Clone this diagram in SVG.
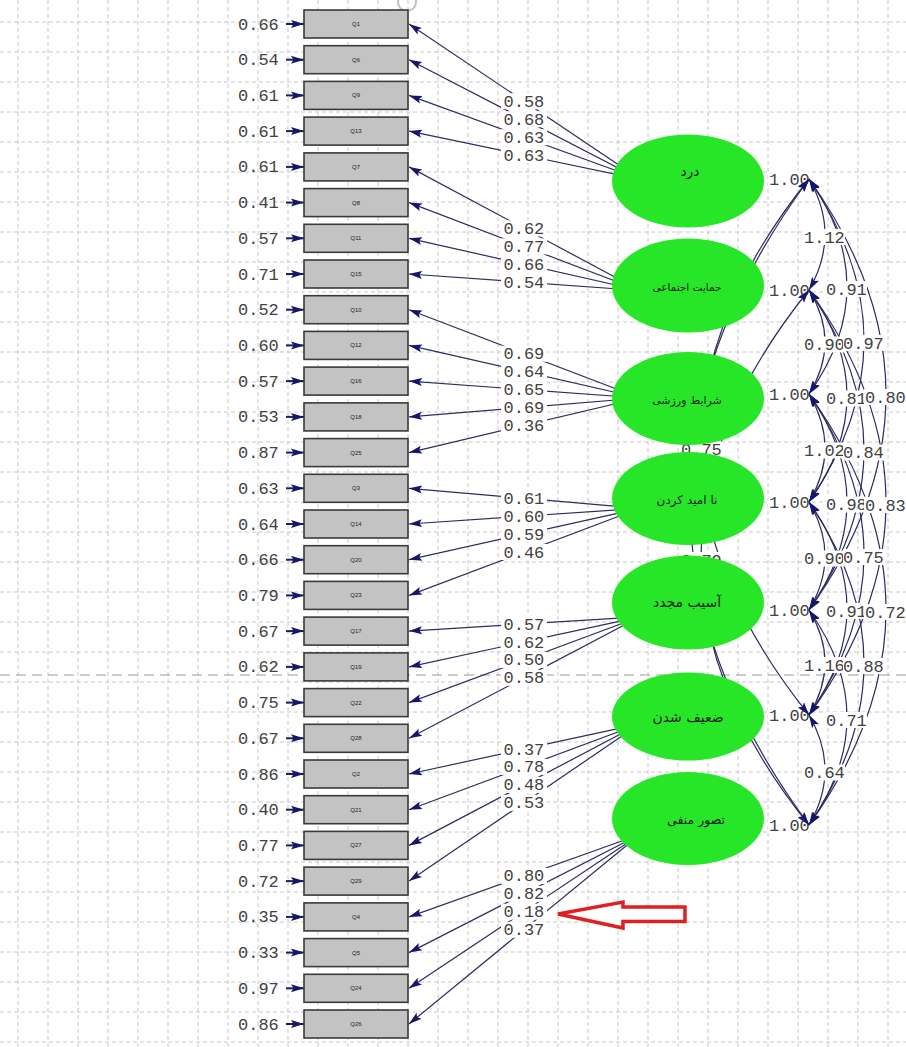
<svg xmlns="http://www.w3.org/2000/svg" width="906" height="1047" viewBox="0 0 906 1047">
<style>
.grid{stroke:#c8c8c8;stroke-width:1;stroke-dasharray:4 3;fill:none}
.page{stroke:#9a9a9a;stroke-width:1;stroke-dasharray:10 6;fill:none}
.num{font-family:"Liberation Mono","Courier New",monospace;font-size:17px;fill:#424242}
.bg{fill:#ffffff}
.ld{stroke:#2c2c64;stroke-width:1.2;fill:none}
.err{stroke:#1c1c6a;stroke-width:2;fill:none}
.cv{stroke:#2c2c64;stroke-width:1.2;fill:none}
.ind rect{fill:#c3c3c3;stroke:#3a3a3a;stroke-width:1.6}
.qt{font-family:"Liberation Sans",Arial,sans-serif;font-size:6px;fill:#222;text-anchor:middle}
.lat ellipse{fill:#27e627}
.lt{font-family:"DejaVu Sans","Noto Sans",sans-serif;fill:#142014;text-anchor:middle}
</style>
<defs>
<marker id="ah" markerUnits="userSpaceOnUse" markerWidth="14" markerHeight="10" refX="13" refY="5" orient="auto-start-reverse">
<path d="M0,1 L13,5 L0,9 L2.5,5 z" fill="#16166a"/>
</marker>
</defs>
<rect width="906" height="1047" fill="#ffffff"/>
<!-- background grid -->
<path class="grid" d="M18,0V1047M48,0V1047M78,0V1047M108,0V1047M138,0V1047M168,0V1047M198,0V1047M228,0V1047M258,0V1047M288,0V1047M318,0V1047M348,0V1047M378,0V1047M408,0V1047M438,0V1047M468,0V1047M498,0V1047M528,0V1047M558,0V1047M588,0V1047M618,0V1047M648,0V1047M678,0V1047M708,0V1047M738,0V1047M768,0V1047M798,0V1047M828,0V1047M858,0V1047M888,0V1047
M0,22H906M0,52H906M0,82H906M0,112H906M0,142H906M0,172H906M0,202H906M0,232H906M0,262H906M0,292H906M0,322H906M0,352H906M0,382H906M0,412H906M0,442H906M0,472H906M0,502H906M0,532H906M0,562H906M0,592H906M0,622H906M0,652H906M0,682H906M0,712H906M0,742H906M0,772H906M0,802H906M0,832H906M0,862H906M0,892H906M0,922H906M0,952H906M0,982H906M0,1012H906M0,1042H906"/>
<path class="page" d="M0,675H906"/>
<circle cx="407" cy="2" r="9" fill="none" stroke="#c0c0c0" stroke-width="2"/>

<!-- factor variances -->
<g id="variances">
<rect class="bg" x="768" y="171" width="40" height="16"/><text class="num" x="769" y="184.5">1.00</text>
<rect class="bg" x="768" y="282" width="40" height="16"/><text class="num" x="769" y="295.5">1.00</text>
<rect class="bg" x="768" y="386" width="40" height="16"/><text class="num" x="769" y="399.5">1.00</text>
<rect class="bg" x="768" y="494" width="40" height="16"/><text class="num" x="769" y="507.5">1.00</text>
<rect class="bg" x="768" y="602" width="40" height="16"/><text class="num" x="769" y="615.5">1.00</text>
<rect class="bg" x="768" y="707" width="40" height="16"/><text class="num" x="769" y="720.5">1.00</text>
<rect class="bg" x="768" y="817" width="40" height="16"/><text class="num" x="769" y="830.5">1.00</text>
</g>

<g id="connectors">
<!-- error terms -->
<g class="err" marker-end="url(#ah)">
<path d="M286,24H304"/><path d="M286,59.7H304"/><path d="M286,95.4H304"/><path d="M286,131.1H304"/><path d="M286,166.9H304"/><path d="M286,202.6H304"/><path d="M286,238.3H304"/><path d="M286,274H304"/><path d="M286,309.7H304"/><path d="M286,345.4H304"/><path d="M286,381.1H304"/><path d="M286,416.9H304"/><path d="M286,452.6H304"/><path d="M286,488.3H304"/><path d="M286,524H304"/><path d="M286,559.7H304"/><path d="M286,595.4H304"/><path d="M286,631.1H304"/><path d="M286,666.9H304"/><path d="M286,702.6H304"/><path d="M286,738.3H304"/><path d="M286,774H304"/><path d="M286,809.7H304"/><path d="M286,845.4H304"/><path d="M286,881.1H304"/><path d="M286,916.9H304"/><path d="M286,952.6H304"/><path d="M286,988.3H304"/><path d="M286,1024H304"/>
</g>
<!-- loadings -->
<g class="ld" marker-end="url(#ah)">
<path d="M640,179.3L409,24"/><path d="M640,179.3L409,59.7"/><path d="M640,179.3L409,95.4"/><path d="M640,179.3L409,131.1"/>
<path d="M640,290.5L409,166.9"/><path d="M640,290.5L409,202.6"/><path d="M640,290.5L409,238.3"/><path d="M640,290.5L409,274"/>
<path d="M640,398L409,309.7"/><path d="M640,398L409,345.4"/><path d="M640,398L409,381.1"/><path d="M640,398L409,416.9"/><path d="M640,398L409,452.6"/>
<path d="M640,508.3L409,488.3"/><path d="M640,508.3L409,524"/><path d="M640,508.3L409,559.7"/><path d="M640,508.3L409,595.4"/>
<path d="M640,616.8L409,631.1"/><path d="M640,616.8L409,666.9"/><path d="M640,616.8L409,702.6"/><path d="M640,616.8L409,738.3"/>
<path d="M640,723.8L409,774"/><path d="M640,723.8L409,809.7"/><path d="M640,723.8L409,845.4"/><path d="M640,723.8L409,881.1"/>
<path d="M640,834.5L409,916.9"/><path d="M640,834.5L409,952.6"/><path d="M640,834.5L409,988.3"/><path d="M640,834.5L409,1024"/>
</g>
<!-- factor correlations -->
<g class="cv" marker-start="url(#ah)" marker-end="url(#ah)">
<path d="M809,179Q841,234.5 809,290"/>
<path d="M809,290Q841,342 809,394"/>
<path d="M809,394Q841,448 809,502"/>
<path d="M809,502Q841,556 809,610"/>
<path d="M809,610Q841,662.5 809,715"/>
<path d="M809,715Q841,770 809,825"/>
<path d="M809,179Q885,286.5 809,394"/>
<path d="M809,290Q885,396 809,502"/>
<path d="M809,394Q885,502 809,610"/>
<path d="M809,502Q885,608.5 809,715"/>
<path d="M809,610Q885,717.5 809,825"/>
<path d="M809,179Q919,340.5 809,502"/>
<path d="M809,290Q919,450 809,610"/>
<path d="M809,394Q919,554.5 809,715"/>
<path d="M809,502Q919,663.5 809,825"/>
<path d="M809,179Q963,394.5 809,610"/>
<path d="M809,290Q963,502.5 809,715"/>
<path d="M809,394Q963,609.5 809,825"/>
<path d="M809,179Q593,447 809,715"/>
<path d="M809,290Q593,557.5 809,825"/>
<path d="M809,179Q571,502 809,825"/>
</g>
</g>

<!-- path coefficients -->
<g id="loading-labels">
<rect class="bg" x="501" y="93.3" width="46" height="16"/><text class="num" x="503.5" y="106.8">0.58</text>
<rect class="bg" x="501" y="111.2" width="46" height="16"/><text class="num" x="503.5" y="124.7">0.68</text>
<rect class="bg" x="501" y="129.2" width="46" height="16"/><text class="num" x="503.5" y="142.7">0.63</text>
<rect class="bg" x="501" y="147.1" width="46" height="16"/><text class="num" x="503.5" y="160.6">0.63</text>
<rect class="bg" x="501" y="220.4" width="46" height="16"/><text class="num" x="503.5" y="233.9">0.62</text>
<rect class="bg" x="501" y="238.4" width="46" height="16"/><text class="num" x="503.5" y="251.9">0.77</text>
<rect class="bg" x="501" y="256.3" width="46" height="16"/><text class="num" x="503.5" y="269.8">0.66</text>
<rect class="bg" x="501" y="274.2" width="46" height="16"/><text class="num" x="503.5" y="287.7">0.54</text>
<rect class="bg" x="501" y="345.7" width="46" height="16"/><text class="num" x="503.5" y="359.2">0.69</text>
<rect class="bg" x="501" y="363.6" width="46" height="16"/><text class="num" x="503.5" y="377.1">0.64</text>
<rect class="bg" x="501" y="381.5" width="46" height="16"/><text class="num" x="503.5" y="395">0.65</text>
<rect class="bg" x="501" y="399.5" width="46" height="16"/><text class="num" x="503.5" y="413">0.69</text>
<rect class="bg" x="501" y="417.4" width="46" height="16"/><text class="num" x="503.5" y="430.9">0.36</text>
<rect class="bg" x="501" y="490.3" width="46" height="16"/><text class="num" x="503.5" y="503.8">0.61</text>
<rect class="bg" x="501" y="508.2" width="46" height="16"/><text class="num" x="503.5" y="521.7">0.60</text>
<rect class="bg" x="501" y="526.1" width="46" height="16"/><text class="num" x="503.5" y="539.6">0.59</text>
<rect class="bg" x="501" y="544" width="46" height="16"/><text class="num" x="503.5" y="557.5">0.46</text>
<rect class="bg" x="501" y="616" width="46" height="16"/><text class="num" x="503.5" y="629.5">0.57</text>
<rect class="bg" x="501" y="634" width="46" height="16"/><text class="num" x="503.5" y="647.5">0.62</text>
<rect class="bg" x="501" y="651.9" width="46" height="16"/><text class="num" x="503.5" y="665.4">0.50</text>
<rect class="bg" x="501" y="669.8" width="46" height="16"/><text class="num" x="503.5" y="683.3">0.58</text>
<rect class="bg" x="501" y="741" width="46" height="16"/><text class="num" x="503.5" y="754.5">0.37</text>
<rect class="bg" x="501" y="758.9" width="46" height="16"/><text class="num" x="503.5" y="772.4">0.78</text>
<rect class="bg" x="501" y="776.9" width="46" height="16"/><text class="num" x="503.5" y="790.4">0.48</text>
<rect class="bg" x="501" y="794.8" width="46" height="16"/><text class="num" x="503.5" y="808.3">0.53</text>
<rect class="bg" x="501" y="867.9" width="46" height="16"/><text class="num" x="503.5" y="881.4">0.80</text>
<rect class="bg" x="501" y="885.8" width="46" height="16"/><text class="num" x="503.5" y="899.3">0.82</text>
<rect class="bg" x="501" y="903.7" width="46" height="16"/><text class="num" x="503.5" y="917.2">0.18</text>
<rect class="bg" x="501" y="921.7" width="46" height="16"/><text class="num" x="503.5" y="935.2">0.37</text>
</g>

<!-- correlation coefficients -->
<g id="correlation-labels">
<rect class="bg" x="803" y="229" width="42" height="16"/><text class="num" x="804" y="242.5">1.12</text>
<rect class="bg" x="803" y="336.5" width="42" height="16"/><text class="num" x="804" y="350">0.90</text>
<rect class="bg" x="803" y="442.5" width="42" height="16"/><text class="num" x="804" y="456">1.02</text>
<rect class="bg" x="803" y="550.5" width="42" height="16"/><text class="num" x="804" y="564">0.90</text>
<rect class="bg" x="803" y="657" width="42" height="16"/><text class="num" x="804" y="670.5">1.16</text>
<rect class="bg" x="803" y="764.5" width="42" height="16"/><text class="num" x="804" y="778">0.64</text>
<rect class="bg" x="825" y="281" width="42" height="16"/><text class="num" x="826" y="294.5">0.91</text>
<rect class="bg" x="825" y="390.5" width="42" height="16"/><text class="num" x="826" y="404">0.81</text>
<rect class="bg" x="825" y="496.5" width="42" height="16"/><text class="num" x="826" y="510">0.98</text>
<rect class="bg" x="825" y="603" width="42" height="16"/><text class="num" x="826" y="616.5">0.91</text>
<rect class="bg" x="825" y="712" width="42" height="16"/><text class="num" x="826" y="725.5">0.71</text>
<rect class="bg" x="843" y="335" width="42" height="16"/><text class="num" x="843" y="348.5">0.97</text>
<rect class="bg" x="843" y="444.5" width="42" height="16"/><text class="num" x="843" y="458">0.84</text>
<rect class="bg" x="843" y="549" width="42" height="16"/><text class="num" x="843" y="562.5">0.75</text>
<rect class="bg" x="843" y="658" width="42" height="16"/><text class="num" x="843" y="671.5">0.88</text>
<rect class="bg" x="864" y="389" width="42" height="16"/><text class="num" x="865" y="402.5">0.80</text>
<rect class="bg" x="864" y="497" width="42" height="16"/><text class="num" x="865" y="510.5">0.83</text>
<rect class="bg" x="864" y="604" width="42" height="16"/><text class="num" x="865" y="617.5">0.72</text>
<rect class="bg" x="680" y="441.5" width="42" height="16"/><text class="num" x="681" y="455">0.75</text>
<rect class="bg" x="680" y="552" width="42" height="16"/><text class="num" x="681" y="565.5">0.79</text>
</g>

<!-- latent factors -->
<g id="f1" class="lat"><ellipse cx="688" cy="181" rx="76" ry="46.5"/><text class="lt" x="690" y="176" font-size="14">درد</text></g>
<g id="f2" class="lat"><ellipse cx="688" cy="285.5" rx="76" ry="47"/><text class="lt" x="687" y="291" font-size="10.5">حمایت اجتماعی</text></g>
<g id="f3" class="lat"><ellipse cx="688" cy="398.5" rx="76" ry="46.5"/><text class="lt" x="687" y="404" font-size="11">شرایط ورزشی</text></g>
<g id="f4" class="lat"><ellipse cx="688" cy="498.5" rx="76" ry="46.5"/><text class="lt" x="687" y="504" font-size="12">نا امید کردن</text></g>
<g id="f5" class="lat"><ellipse cx="688" cy="602.5" rx="76" ry="47"/><text class="lt" x="687" y="607" font-size="14">آسیب مجدد</text></g>
<g id="f6" class="lat"><ellipse cx="688" cy="716.5" rx="76" ry="44"/><text class="lt" x="688" y="722" font-size="14">ضعیف شدن</text></g>
<g id="f7" class="lat"><ellipse cx="688" cy="818.5" rx="76" ry="46.5"/><text class="lt" x="696" y="824" font-size="12.5">تصور منفی</text></g>

<!-- observed indicators with their error variances -->
<g id="q1" class="ind"><rect x="304" y="10" width="104" height="28"/><text class="qt" x="356" y="26">Q1</text><text class="num" x="238" y="29.5">0.66</text></g>
<g id="q6" class="ind"><rect x="304" y="45.7" width="104" height="28"/><text class="qt" x="356" y="61.7">Q6</text><text class="num" x="238" y="65.2">0.54</text></g>
<g id="q9" class="ind"><rect x="304" y="81.4" width="104" height="28"/><text class="qt" x="356" y="97.4">Q9</text><text class="num" x="238" y="100.9">0.61</text></g>
<g id="q13" class="ind"><rect x="304" y="117.1" width="104" height="28"/><text class="qt" x="356" y="133.1">Q13</text><text class="num" x="238" y="136.6">0.61</text></g>
<g id="q7" class="ind"><rect x="304" y="152.9" width="104" height="28"/><text class="qt" x="356" y="168.9">Q7</text><text class="num" x="238" y="172.4">0.61</text></g>
<g id="q8" class="ind"><rect x="304" y="188.6" width="104" height="28"/><text class="qt" x="356" y="204.6">Q8</text><text class="num" x="238" y="208.1">0.41</text></g>
<g id="q11" class="ind"><rect x="304" y="224.3" width="104" height="28"/><text class="qt" x="356" y="240.3">Q11</text><text class="num" x="238" y="243.8">0.57</text></g>
<g id="q15" class="ind"><rect x="304" y="260" width="104" height="28"/><text class="qt" x="356" y="276">Q15</text><text class="num" x="238" y="279.5">0.71</text></g>
<g id="q10" class="ind"><rect x="304" y="295.7" width="104" height="28"/><text class="qt" x="356" y="311.7">Q10</text><text class="num" x="238" y="315.2">0.52</text></g>
<g id="q12" class="ind"><rect x="304" y="331.4" width="104" height="28"/><text class="qt" x="356" y="347.4">Q12</text><text class="num" x="238" y="350.9">0.60</text></g>
<g id="q16" class="ind"><rect x="304" y="367.1" width="104" height="28"/><text class="qt" x="356" y="383.1">Q16</text><text class="num" x="238" y="386.6">0.57</text></g>
<g id="q18" class="ind"><rect x="304" y="402.9" width="104" height="28"/><text class="qt" x="356" y="418.9">Q18</text><text class="num" x="238" y="422.4">0.53</text></g>
<g id="q25" class="ind"><rect x="304" y="438.6" width="104" height="28"/><text class="qt" x="356" y="454.6">Q25</text><text class="num" x="238" y="458.1">0.87</text></g>
<g id="q3" class="ind"><rect x="304" y="474.3" width="104" height="28"/><text class="qt" x="356" y="490.3">Q3</text><text class="num" x="238" y="493.8">0.63</text></g>
<g id="q14" class="ind"><rect x="304" y="510" width="104" height="28"/><text class="qt" x="356" y="526">Q14</text><text class="num" x="238" y="529.5">0.64</text></g>
<g id="q20" class="ind"><rect x="304" y="545.7" width="104" height="28"/><text class="qt" x="356" y="561.7">Q20</text><text class="num" x="238" y="565.2">0.66</text></g>
<g id="q23" class="ind"><rect x="304" y="581.4" width="104" height="28"/><text class="qt" x="356" y="597.4">Q23</text><text class="num" x="238" y="600.9">0.79</text></g>
<g id="q17" class="ind"><rect x="304" y="617.1" width="104" height="28"/><text class="qt" x="356" y="633.1">Q17</text><text class="num" x="238" y="636.6">0.67</text></g>
<g id="q19" class="ind"><rect x="304" y="652.9" width="104" height="28"/><text class="qt" x="356" y="668.9">Q19</text><text class="num" x="238" y="672.4">0.62</text></g>
<g id="q22" class="ind"><rect x="304" y="688.6" width="104" height="28"/><text class="qt" x="356" y="704.6">Q22</text><text class="num" x="238" y="708.1">0.75</text></g>
<g id="q28" class="ind"><rect x="304" y="724.3" width="104" height="28"/><text class="qt" x="356" y="740.3">Q28</text><text class="num" x="238" y="743.8">0.67</text></g>
<g id="q2" class="ind"><rect x="304" y="760" width="104" height="28"/><text class="qt" x="356" y="776">Q2</text><text class="num" x="238" y="779.5">0.86</text></g>
<g id="q21" class="ind"><rect x="304" y="795.7" width="104" height="28"/><text class="qt" x="356" y="811.7">Q21</text><text class="num" x="238" y="815.2">0.40</text></g>
<g id="q27" class="ind"><rect x="304" y="831.4" width="104" height="28"/><text class="qt" x="356" y="847.4">Q27</text><text class="num" x="238" y="850.9">0.77</text></g>
<g id="q29" class="ind"><rect x="304" y="867.1" width="104" height="28"/><text class="qt" x="356" y="883.1">Q29</text><text class="num" x="238" y="886.6">0.72</text></g>
<g id="q4" class="ind"><rect x="304" y="902.9" width="104" height="28"/><text class="qt" x="356" y="918.9">Q4</text><text class="num" x="238" y="922.4">0.35</text></g>
<g id="q5" class="ind"><rect x="304" y="938.6" width="104" height="28"/><text class="qt" x="356" y="954.6">Q5</text><text class="num" x="238" y="958.1">0.33</text></g>
<g id="q24" class="ind"><rect x="304" y="974.3" width="104" height="28"/><text class="qt" x="356" y="990.3">Q24</text><text class="num" x="238" y="993.8">0.97</text></g>
<g id="q26" class="ind"><rect x="304" y="1010" width="104" height="28"/><text class="qt" x="356" y="1026">Q26</text><text class="num" x="238" y="1029.5">0.86</text></g>

<!-- highlight arrow -->
<polygon id="pointer" points="558,914 623,902 623,907 685,907 685,921.5 623,921.5 623,928" fill="#ffffff" stroke="#e02020" stroke-width="3.5" stroke-linejoin="miter"/>
</svg>
